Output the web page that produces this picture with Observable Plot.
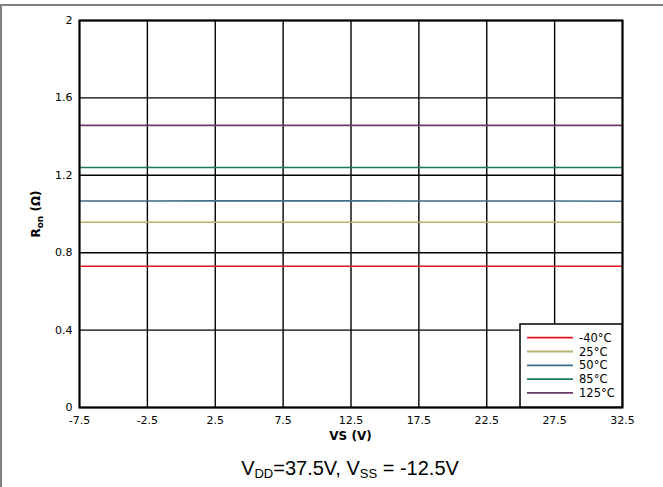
<!DOCTYPE html>
<html><head><meta charset="utf-8">
<script src="https://cdn.jsdelivr.net/npm/d3@7"></script>
<script src="https://cdn.jsdelivr.net/npm/@observablehq/plot@0.6"></script>
<style>
body{margin:0;background:#fff;}
#wrap{position:absolute;left:0;top:0;width:663px;height:487px;overflow:hidden;}
#border{position:absolute;left:0;top:4px;width:663px;height:483px;border-top:2px solid #808080;border-left:2px solid #808080;box-sizing:border-box;}
#chart{position:absolute;left:0;top:0;}
</style>
</head><body>
<div id="wrap"><div id="border"></div><div id="chart"></div></div>
<script>
const xTicks = [-7.5, -2.5, 2.5, 7.5, 12.5, 17.5, 22.5, 27.5, 32.5];
const yTicks = [0, 0.4, 0.8, 1.2, 1.6, 2];
const seriesNames = ["-40°C", "25°C", "50°C", "85°C", "125°C"];
const seriesColors = ["#e4151f", "#b5b16e", "#3f6e8c", "#1c7a5a", "#6c3a6a"];
const ron_m40 = [0.730, 0.730, 0.730, 0.730, 0.730, 0.730, 0.730, 0.730, 0.730];
const ron_25  = [0.957, 0.957, 0.957, 0.957, 0.957, 0.957, 0.957, 0.957, 0.957];
const ron_50  = [1.067, 1.067, 1.068, 1.068, 1.068, 1.067, 1.067, 1.067, 1.066];
const ron_85  = [1.240, 1.240, 1.240, 1.240, 1.240, 1.240, 1.240, 1.240, 1.240];
const ron_125 = [1.458, 1.458, 1.458, 1.458, 1.458, 1.458, 1.458, 1.458, 1.458];
const seriesValues = [ron_m40, ron_25, ron_50, ron_85, ron_125];

const rows = [];
seriesNames.forEach((name, i) => {
  xTicks.forEach((x, j) => rows.push({series: name, vs: x, ron: seriesValues[i][j]}));
});

const chart = Plot.plot({
  width: 663, height: 487,
  marginLeft: 79, marginRight: 41, marginTop: 20, marginBottom: 80,
  style: {fontFamily: "'DejaVu Sans', sans-serif", fontSize: "11px", background: "transparent", color: "#000"},
  x: {domain: [-7.5, 32.5], ticks: xTicks},
  y: {domain: [0, 2], ticks: yTicks},
  color: {domain: seriesNames, range: seriesColors},
  marks: [
    Plot.gridX(xTicks, {stroke: "#000", strokeOpacity: 1, strokeWidth: 1.4}),
    Plot.gridY(yTicks, {stroke: "#000", strokeOpacity: 1, strokeWidth: 1.4}),
    Plot.line(rows, {x: "vs", y: "ron", stroke: "series", z: "series", strokeWidth: 1.6}),
    Plot.frame({stroke: "#000", strokeWidth: 2}),
    Plot.axisX(xTicks, {tickSize: 0, tickPadding: 9, label: null, tickFormat: d => String(d), fontSize: 11}),
    Plot.axisY(yTicks, {tickSize: 0, tickPadding: 7, label: null, tickFormat: d => String(d), fontSize: 11})
  ]
});
document.getElementById("chart").appendChild(chart);

const svg = d3.select(chart);
// Axis labels
svg.append("text")
  .attr("x", 350.5).attr("y", 440)
  .attr("text-anchor", "middle")
  .attr("font-family", "'DejaVu Sans', sans-serif")
  .attr("font-weight", "bold").attr("font-size", 12)
  .text("VS (V)");
const yl = svg.append("text")
  .attr("transform", "translate(40,214) rotate(-90)")
  .attr("text-anchor", "middle")
  .attr("font-family", "'DejaVu Sans', sans-serif")
  .attr("font-weight", "bold").attr("font-size", 12);
yl.append("tspan").text("R");
yl.append("tspan").attr("font-size", 9).attr("dy", 3).text("on");
yl.append("tspan").attr("dy", -3).text(" (Ω)");

// Caption
const cap = svg.append("text")
  .attr("x", 350).attr("y", 475)
  .attr("text-anchor", "middle")
  .attr("font-family", "'Liberation Sans', Arial, sans-serif")
  .attr("font-size", 20);
cap.append("tspan").text("V");
cap.append("tspan").attr("font-size", 13).attr("dy", 3).text("DD");
cap.append("tspan").attr("dy", -3).text("=37.5V, V");
cap.append("tspan").attr("font-size", 13).attr("dy", 3).text("SS");
cap.append("tspan").attr("dy", -3).text(" = -12.5V");

// Legend
const lg = svg.append("g");
lg.append("rect").attr("x", 520).attr("y", 324).attr("width", 102).attr("height", 83)
  .attr("fill", "#fff").attr("stroke", "#000").attr("stroke-width", 1.5);
seriesNames.forEach((name, i) => {
  const yy = 337.7 + i * 13.8;
  lg.append("line").attr("x1", 527).attr("x2", 573).attr("y1", yy).attr("y2", yy)
    .attr("stroke", seriesColors[i]).attr("stroke-width", 1.8);
  lg.append("text").attr("x", 579).attr("y", yy).attr("dy", "0.36em")
    .attr("text-anchor", "start")
    .attr("font-family", "'DejaVu Sans', sans-serif").attr("font-size", 11.5)
    .text(name);
});
</script>
</body></html>
